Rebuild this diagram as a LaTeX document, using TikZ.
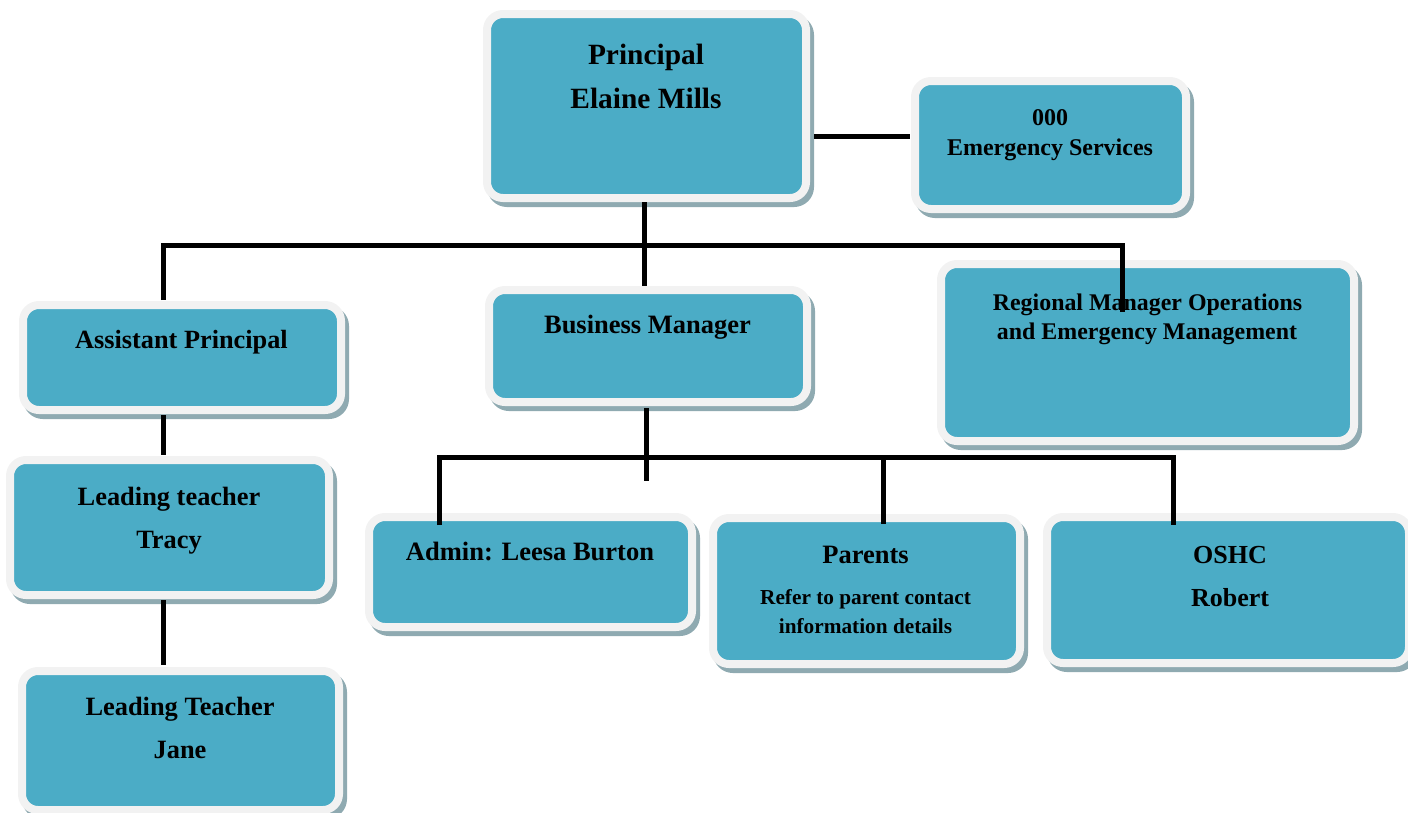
\documentclass[tikz,border=0pt]{standalone}
\usepackage{fontspec}
\setmainfont{Liberation Serif}
\usetikzlibrary{shadows,calc}
\definecolor{boxblue}{HTML}{4BACC6}
\definecolor{boxrim}{HTML}{F2F2F2}
\definecolor{boxshade}{HTML}{8FAAB1}
\begin{document}
\begin{tikzpicture}[x=1pt,y=-1pt,
  orgbox/.style={rectangle, rounded corners=16pt, fill=boxblue, draw=boxrim,
    line width=8pt, inner sep=0pt, outer sep=0pt, anchor=north west,
    drop shadow={shadow xshift=4pt, shadow yshift=-5pt, fill=boxshade,
      draw=boxshade, line width=8pt, opacity=1}},
  lbl/.style={font=\bfseries, anchor=base, inner sep=0pt, text=black},
  link/.style={line width=5pt, draw=black, line join=miter}]
\useasboundingbox (0,0) rectangle (1408,812);

% boxes
\node[orgbox, minimum width=319pt, minimum height=184pt] (p)   at (487,14)  {};
\node[orgbox, minimum width=271pt, minimum height=128pt] (em)  at (915,81)  {};
\node[orgbox, minimum width=318pt, minimum height=105pt] (ap)  at (23,305)  {};
\node[orgbox, minimum width=319pt, minimum height=135pt] (lt1) at (10,460)  {};
\node[orgbox, minimum width=317pt, minimum height=139pt] (lt2) at (22,671)  {};
\node[orgbox, minimum width=318pt, minimum height=112pt] (bm)  at (489,290) {};
\node[orgbox, minimum width=413pt, minimum height=177pt] (reg) at (941,264) {};
\node[orgbox, minimum width=323pt, minimum height=110pt] (adm) at (369,517) {};
\node[orgbox, minimum width=307pt, minimum height=146pt] (par) at (713,518) {};
\node[orgbox, minimum width=362pt, minimum height=146pt] (osh) at (1047,517) {};

% texts
\node[lbl, font=\fontsize{29.4}{34}\selectfont\bfseries] (tp1) at (646,64)  {Principal};
\node[lbl, font=\fontsize{29.4}{34}\selectfont\bfseries] (tp2) at (646,108) {Elaine Mills};
\node[lbl, font=\fontsize{24}{28}\selectfont\bfseries] (te1) at (1050,125) {000};
\node[lbl, font=\fontsize{24}{28}\selectfont\bfseries] (te2) at (1050,155) {Emergency Services};
\node[lbl, font=\fontsize{26.3}{30}\selectfont\bfseries] (ta1) at (181.5,348) {Assistant Principal};
\node[lbl, font=\fontsize{26.4}{30}\selectfont\bfseries] (tl1) at (169,505) {Leading teacher};
\node[lbl, font=\fontsize{26.4}{30}\selectfont\bfseries] (tl2) at (169,548) {Tracy};
\node[lbl, font=\fontsize{26.4}{30}\selectfont\bfseries] (tj1) at (180,715) {Leading Teacher};
\node[lbl, font=\fontsize{26.4}{30}\selectfont\bfseries] (tj2) at (180,758) {Jane};
\node[lbl, font=\fontsize{26.5}{30}\selectfont\bfseries] (tb1) at (647.5,333) {Business Manager};
\node[lbl, font=\fontsize{23.9}{28}\selectfont\bfseries] (tr1) at (1147.5,310) {Regional Manager Operations};
\node[lbl, font=\fontsize{23.9}{28}\selectfont\bfseries] (tr2) at (1147,339) {and Emergency Management};
\node[lbl, font=\fontsize{26.5}{30}\selectfont\bfseries] (tad) at (530,560) {Admin: Leesa Burton};
\node[lbl, font=\fontsize{26.5}{30}\selectfont\bfseries] (tpa1) at (865.5,563) {Parents};
\node[lbl, font=\fontsize{21.3}{25}\selectfont\bfseries] (tpa2) at (865.5,604) {Refer to parent contact};
\node[lbl, font=\fontsize{21.3}{25}\selectfont\bfseries] (tpa3) at (865.5,633) {information details};
\node[lbl, font=\fontsize{26}{30}\selectfont\bfseries] (to1) at (1230,563) {OSHC};
\node[lbl, font=\fontsize{26}{30}\selectfont\bfseries] (to2) at (1230,606) {Robert};

% junction coordinates
\coordinate (busL) at (163,245);
\coordinate (busR) at (1122,245);
\coordinate (busM) at (644,245);
\coordinate (regIn) at (1122,312);
\coordinate (bus2L) at (439,457);
\coordinate (bus2R) at (1173,457);
\coordinate (bus2P) at (883,457);
\coordinate (bmEnd) at (646,481);

% connectors
\draw[link] ($(p.east)+(8,30)$) -- ($(em.west)+(-5,-9)$);
\draw[link] ($(busM |- p.south)+(0,4)$) -- ($(busM |- bm.north)+(0,-4)$);
\draw[link] ($(busL |- ap.north)+(0,-5)$) -- (busL) -- (busR) -- (regIn);
\draw[link] ($(busL |- ap.south)+(0,5)$) -- ($(busL |- lt1.north)+(0,-5)$);
\draw[link] ($(busL |- lt1.south)+(0,5)$) -- ($(busL |- lt2.north)+(0,-6)$);
\draw[link] ($(bmEnd |- bm.south)+(0,6)$) -- (bmEnd);
\draw[link] ($(bus2L |- adm.north)+(0,8)$) -- (bus2L) -- (bus2R) -- ($(bus2R |- osh.north)+(0,8)$);
\draw[link] (bus2P) -- ($(bus2P |- par.north)+(0,6)$);
\end{tikzpicture}
\end{document}
